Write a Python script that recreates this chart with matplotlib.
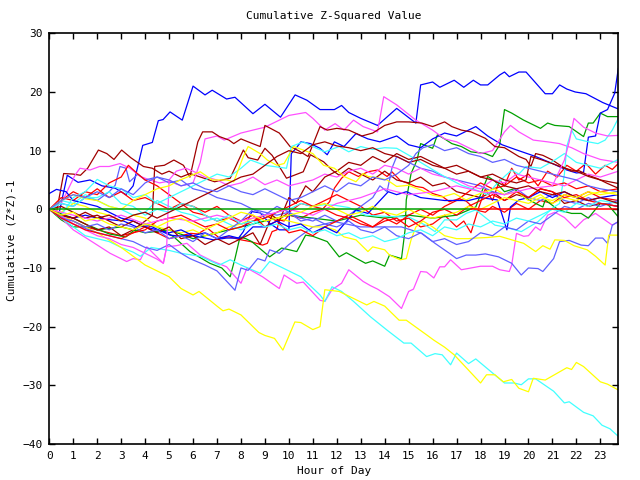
import matplotlib
matplotlib.use('Agg')
import matplotlib.pyplot as plt

# ---- data: (hour, cumulative value) ----
blue_1 = [(0, 0), (0.4, -0.8), (0.75, 5.8), (1.2, 4.6), (1.7, 5.0), (2.2, 4.0), (2.75, 3.6), (3.2, 2.5), (3.5, 4.0),
          (3.9, 10.9), (4.3, 11.4), (4.55, 15.1), (4.75, 15.3), (5.04, 16.6), (5.55, 15.2), (6.0, 21.0), (6.5, 19.5),
          (6.8, 20.3), (7.4, 18.8), (7.75, 19.1), (8.5, 16.3), (9.0, 17.9), (9.65, 15.7), (10.26, 19.5), (10.75, 18.6),
          (11.3, 17.0), (11.9, 17.0), (12.2, 17.7), (12.5, 16.5), (13.0, 15.5), (13.7, 14.3), (14.5, 17.2), (15.3, 14.7),
          (15.5, 21.2), (16.0, 21.7), (16.3, 20.8), (16.9, 22.0), (17.3, 20.8), (17.7, 22.0), (18.0, 21.2), (18.3, 21.2),
          (18.8, 22.9), (19.0, 23.4), (19.2, 22.6), (19.6, 23.4), (19.9, 23.4), (20.7, 19.7), (21.0, 19.7), (21.3, 21.2),
          (21.6, 20.5), (21.95, 20.0), (22.4, 19.7), (23.1, 18.2), (23.75, 17.1)]
blue_2 = [(0, 0), (0.5, -1), (1, -1.5), (1.5, -1), (2, -1.5), (2.6, -1.8), (3.1, -2), (3.65, -3), (4.2, -2.8),
          (4.55, -3.5), (5.04, -4.4), (5.5, -4.6), (5.87, -4.4), (6.4, -4.8), (6.85, -5.2), (7.4, -4.9), (7.9, -4.9),
          (8.1, -3.8), (8.3, -1.8), (8.45, -0.4), (8.8, -0.6), (9.2, -2.4), (9.6, -3.5), (10.0, -3.5), (10.1, 9.5),
          (10.3, 10.4), (10.5, 11.5), (10.9, 11.2), (11.3, 10.4), (11.6, 9.3), (11.9, 11.5), (12.3, 10.7), (12.8, 12.9),
          (13.3, 12.0), (13.8, 11.5), (14.5, 12.5), (15.0, 11.0), (15.5, 10.5), (16.0, 12.0), (16.5, 13.0), (17.0, 12.5),
          (17.8, 14.1), (18.3, 12.5), (18.9, 11.0), (19.45, 10.2), (20.3, 9.0), (21.0, 7.8), (21.6, 6.7), (22.0, 6.2),
          (22.3, 6.3), (22.5, 12.3), (22.8, 12.5), (23.0, 16.4), (23.3, 17.0), (23.6, 19.8), (23.75, 24.0)]
blue_3 = [(0, 2.7), (0.3, 3.4), (0.7, 3.0), (1, 1.5), (1.5, 1), (2, 0.5), (2.5, -0.5), (3, -1.5), (3.5, -2),
          (4, -3), (4.5, -3.5), (5, -4), (5.5, -3.5), (6, -4.5), (6.5, -4), (7, -5), (7.5, -4.5), (8, -5), (8.5, -3),
          (9, -3), (9.5, -2), (10, -3), (10.5, -2.5), (11, -4), (11.5, -3), (12, -4), (12.8, -0.1), (13.3, -0.7),
          (14.15, 3.0), (14.5, 2.5), (14.9, 3.0), (15.5, 2.0), (16.5, 1.5), (17.5, 1.5), (18.0, 2.0), (18.7, 1.6),
          (19.1, -3.5), (19.25, 0.4), (19.6, 1.6), (20.0, 2.0), (20.5, 3.0), (21.0, 2.0), (21.5, 3.0), (22.0, 2.0),
          (22.5, 1.5), (23.0, 2.0), (23.75, 2.5)]

slate_1 = [(0, 0), (1, -2.5), (2, -4), (3, -5), (3.5, -5.5), (4, -6.5), (4.5, -7), (5, -6), (5.5, -7.5), (5.87, -8.4),
           (6.5, -9.5), (7, -10.5), (7.55, -12.9), (7.75, -13.8), (8.0, -10), (8.3, -10.4), (8.7, -8.4), (9.0, -8.8),
           (9.2, -6.9), (9.6, -7.5), (10, -6), (10.5, -4.5), (11, -3), (11.5, -2.5), (11.9, -2.1), (13.0, -3),
           (14.7, -3), (15.55, -4.1), (16.1, -5.8), (16.7, -7.5), (17.0, -8.4), (17.4, -7.8), (17.8, -7.8),
           (18.2, -7.6), (18.75, -8.1), (19.3, -9.2), (19.7, -11.2), (20.0, -10), (20.4, -10.1), (20.6, -10.6),
           (21.05, -8.4), (21.3, -5.5), (21.7, -5.3), (22.2, -6.1), (22.5, -6.2), (22.8, -4.9), (23.1, -4.9),
           (23.3, -5.8), (23.5, -2.7), (23.75, -2.1)]
slate_2 = [(0, 0), (0.5, 1), (1, 0.5), (1.5, 2), (2, 1.5), (2.5, 3), (2.75, 4.1), (2.95, 7.3), (3.2, 7), (3.35, 4.7),
           (3.7, 6), (4, 5), (4.5, 5.5), (5, 4.5), (5.5, 5), (6, 3.5), (6.5, 3), (7, 2), (7.5, 1.5), (8, 1), (8.5, 0),
           (9, -0.5), (9.5, -1), (10, -0.5), (10.5, -1.5), (11, -2), (11.5, -1), (12, -2), (12.5, -1), (13, 0.5),
           (13.5, 2), (13.8, 4), (14.1, 3), (14.3, 7), (14.5, 9), (15, 8), (15.5, 7), (16, 6.5), (16.5, 5.5), (17, 5),
           (17.5, 4.5), (18, 4), (18.5, 3), (19, 2.5), (19.5, 3.5), (20, 2), (20.5, 1.5), (21, 2.5), (21.5, 1.5),
           (22, 1), (22.5, 2), (23, 1), (23.75, 0.5)]
slate_3 = [(0, 0), (0.5, -1.5), (1, -2), (1.5, -3), (2, -2.5), (2.5, -3.5), (3, -2.5), (3.5, -3), (4, -4), (4.5, -3.5),
           (5, -5), (5.5, -4.5), (6, -5.5), (6.5, -4), (7, -5), (7.5, -3.5), (8, -2), (8.5, 0), (9, -1), (9.5, 0.5),
           (10, -0.5), (10.5, -2), (11, -1.5), (11.5, -2.5), (12, -3), (12.5, -2), (13, -3.5), (13.5, -4), (14, -3),
           (14.5, -4.5), (15, -5), (15.5, -4), (16, -5.5), (16.5, -5), (17, -6), (17.5, -5.5), (18, -4), (18.5, -4.5),
           (19, -3), (19.5, -3.5), (20, -2), (20.5, -2.5), (21, -1), (21.5, 0.5), (22, 0), (22.5, 1), (23, 0.5),
           (23.75, 1.5)]
slate_4 = [(0, 0), (0.5, 1.5), (1, 2.5), (1.5, 2), (2, 3), (2.5, 2), (3, 3.5), (3.5, 2.5), (4, 4.5), (4.5, 5.5),
           (5, 5), (5.5, 4), (6, 4.5), (6.5, 3.5), (7, 3), (7.5, 4), (8, 3), (8.5, 2.5), (9, 3.5), (9.5, 2.5),
           (10, 1.5), (10.5, 2), (11, 3), (11.5, 4), (12, 3), (12.5, 4.5), (13, 4), (13.5, 5.5), (14, 5), (14.5, 6),
           (15, 7.5), (15.3, 9.5), (15.6, 10.5), (16, 11), (16.5, 10), (17, 10.5), (17.5, 9.5), (18, 9), (18.5, 8),
           (19, 8.5), (19.5, 7.5), (20, 7), (20.5, 6.5), (21, 6), (21.5, 5.5), (22, 5), (22.5, 4), (23, 3.5),
           (23.75, 3)]

cyan_1 = [(0, 0), (0.5, -1.5), (1, -3), (1.5, -4.5), (2, -5), (2.5, -5.5), (3, -6.5), (3.5, -7.3), (3.8, -8),
          (4.25, -6.5), (5, -7), (5.5, -7.5), (6.3, -8), (7.1, -9.5), (7.55, -8.6), (8.0, -9.5), (8.8, -10.9),
          (9.2, -8.9), (9.9, -10.3), (10.5, -11.5), (11.3, -14.6), (11.5, -15.7), (11.8, -13.2), (12.2, -14.0),
          (12.7, -15.7), (13.4, -18.3), (14.1, -20.6), (14.8, -22.8), (15.1, -22.8), (15.75, -25.1), (16.1, -24.6),
          (16.4, -24.8), (16.75, -26.5), (17.0, -24.5), (17.5, -26.3), (17.8, -25.5), (19.0, -29.6), (19.4, -29.6),
          (19.7, -29.9), (20.0, -28.9), (20.3, -28.9), (21.05, -31.0), (21.5, -33.0), (21.7, -32.8), (22.3, -34.6),
          (22.7, -35.2), (23.07, -36.8), (23.4, -37.4), (23.75, -38.7)]
cyan_2 = [(0, 0), (0.5, 1.5), (1, 1), (1.5, 2.5), (2, 1.5), (2.5, 0.5), (3, 0), (3.5, -1), (4, -0.5), (4.5, 1.5),
          (5, 0.5), (5.5, -0.5), (6, -1), (6.5, -2), (7, -1.5), (7.5, -2.5), (8, -3.5), (8.5, -2.5), (9, -1.5),
          (9.5, -0.5), (10, 0), (10.5, 1), (11, 0.5), (11.5, 0.8), (11.9, 0.7), (12.5, 0.3), (13.2, -1), (14, -1.2),
          (15, -1.3), (15.7, -2.7), (16.1, -3.8), (16.5, -1.8), (17.0, -1.8), (17.4, -0.7), (17.8, -0.1),
          (18.6, -2.7), (19.0, -3.0), (19.7, -3.8), (20.4, -2.1), (21.0, 0.2), (21.3, 1.0), (21.5, 6.0),
          (21.6, 10.7), (21.8, 13.5), (22.0, 12.0), (22.5, 11.5), (22.9, 11.2), (23.2, 11.8), (23.5, 13.5),
          (23.75, 15.5)]
cyan_3 = [(0, 0), (0.5, -1), (1, 2), (1.5, 3), (2, 5.1), (2.5, 4), (3, 3.5), (3.5, 2), (4, 2.5), (4.5, 1), (5, 2),
          (5.5, 3), (6, 4), (6.5, 5), (7, 6), (7.5, 5.5), (8, 7), (8.4, 8.4), (9, 7.5), (9.9, 7), (10.1, 10.7),
          (10.6, 11.5), (11.1, 10.5), (11.5, 9.8), (12.1, 10.7), (12.5, 9.8), (13, 10.7), (13.5, 10.2), (14, 10.5),
          (14.5, 10.4), (15.1, 9.0), (15.7, 7.5), (16.4, 5.8), (17.2, 4.1), (17.8, 3.3), (18.3, 2.5), (18.6, 4.0),
          (19.0, 5.6), (19.3, 6.7), (19.6, 6.0), (19.9, 7.3), (20.5, 7.0), (21.1, 8.4), (21.5, 9.5), (22.0, 8.0),
          (22.5, 7.5), (23.0, 7.0), (23.75, 8.5)]
cyan_4 = [(0, 0), (0.5, 1), (1, 0.5), (1.5, 2), (2, 2), (2.5, 3), (3, 1), (3.5, 0.5), (4, -1), (4.5, 0), (5, -0.5),
          (5.5, 1), (6, 0.5), (6.5, -1), (7, -2), (7.5, -1), (8, -2.5), (8.5, -2), (9, -3), (9.5, -2.5), (10, -3.5),
          (10.5, -3), (11, -4), (11.5, -3.5), (12, -4.5), (12.5, -4), (13, -5), (13.5, -4.5), (14, -5.5), (14.5, -5),
          (15, -4), (15.5, -3.5), (16, -4.5), (16.5, -3), (17, -3.5), (17.5, -2.5), (18, -3), (18.5, -2),
          (19, -2.5), (19.5, -1.5), (20, -2), (20.5, -1), (21, 0), (21.5, -0.5), (22, 1), (22.5, 0.5), (23, 1.5),
          (23.75, 1)]

magenta_1 = [(0, 0), (0.5, -1.5), (1, -3.5), (1.7, -5.3), (2.54, -7.5), (3.23, -8.9), (3.5, -8.4), (3.8, -8.6),
             (4.07, -6.4), (4.76, -9.2), (4.9, -6.4), (5.3, -6.2), (5.74, -5.8), (6.3, -7.8), (6.8, -8.8),
             (7.4, -9.8), (8.0, -12.6), (8.25, -10.0), (8.9, -11.5), (9.6, -13.5), (9.8, -11.2), (10.33, -12.6),
             (10.6, -12.4), (11.3, -15.5), (11.5, -15.7), (11.8, -13.7), (12.2, -12.6), (12.5, -10.3), (13.1, -12.3),
             (13.4, -13.0), (13.7, -13.6), (14.2, -14.9), (14.7, -16.9), (15.0, -14.0), (15.2, -13.6), (15.5, -10.6),
             (15.75, -10.7), (16.05, -11.7), (16.3, -9.8), (16.5, -9.8), (16.75, -8.6), (17.2, -10.3), (18.0, -9.7),
             (18.5, -9.7), (18.8, -10.3), (19.2, -10.6), (19.3, -9.5), (19.5, -4.1), (19.8, -4.6), (20.0, -4.5),
             (20.3, -3.0), (20.5, -3.6), (20.8, -1.0), (21.1, -0.5), (21.5, -1.4), (21.95, -3.2), (22.3, -1.8),
             (22.8, -0.7), (23.5, -2.7), (23.75, -2.1)]
magenta_2 = [(0, 0), (0.5, 1), (1.07, 5.8), (1.28, 7), (1.7, 6.7), (2.1, 7.3), (2.5, 7.3), (2.95, 7.8), (3.37, 7),
             (3.8, 5.6), (4.2, 5), (4.6, 4.5), (5, 4.8), (5.5, 4), (6, 4.5), (6.3, 8), (6.5, 12), (7, 12.5),
             (7.3, 11.8), (8, 13), (8.5, 13.5), (9, 14), (9.5, 15), (10, 16), (10.7, 16.5), (11, 15.5), (11.5, 13.5),
             (11.93, 14.6), (12.3, 13.5), (12.7, 15.2), (13.1, 14.1), (13.7, 13.2), (13.96, 19.2), (14.5, 17.8),
             (15.3, 15.2), (16, 13.5), (16.5, 12), (17, 11.5), (17.5, 10.5), (18, 9.5), (18.5, 10), (19, 13.2),
             (19.25, 14.3), (19.6, 13.2), (20.2, 11.8), (20.8, 11.5), (21.3, 11.2), (21.8, 10.5), (22.3, 9.5),
             (23, 8.5), (23.75, 8)]
magenta_3 = [(0, 0), (0.5, -1), (1, -2.5), (1.5, -3.5), (2, -4.5), (2.5, -5), (3, -6), (3.5, -6.5), (4, -7.5),
             (4.5, -8.5), (4.76, -9.2), (4.9, -6.4), (5.0, 5), (5.3, 6.5), (5.7, 7), (6, 6.5), (6.5, 5.5), (7, 5),
             (7.5, 4), (8, 4.5), (8.5, 5.5), (9, 4.2), (9.5, 5), (10, 4), (10.5, 4.5), (11, 5), (11.5, 6), (12, 5.5),
             (12.5, 6.5), (13, 7), (13.5, 6), (14, 7.5), (14.5, 7), (15, 6), (15.5, 7), (16, 6), (16.5, 5.5), (17, 5),
             (17.5, 4), (18, 3.5), (18.5, 5), (19, 4.5), (19.5, 6), (20, 5.5), (20.5, 5), (21, 4.5), (21.5, 4),
             (22, 5), (22.5, 6), (23, 5.5), (23.75, 6.5)]
magenta_4 = [(0, 0), (1, -1), (2, -2), (3, -1), (4, -2.5), (5, -1.5), (6, -2), (7, -1), (8, -2), (9, -1), (10, 0),
             (11, -1), (12, 1), (13, 2), (14, 3.5), (15, 2.5), (16, 3), (17, 4), (18, 3), (19, 2.5), (20, 3.5),
             (21, 4), (21.5, 8.4), (21.7, 11.5), (21.9, 15.5), (22.3, 14), (22.8, 13), (23.3, 12.5), (23.75, 12.6)]

yellow_1 = [(0, 0), (1, -2), (2, -4), (3, -6.5), (3.5, -8), (4, -9.5), (5, -11.5), (5.5, -13.5), (6, -14.6),
            (6.25, -14), (7, -16.5), (7.25, -17.3), (7.5, -17), (8, -18), (8.75, -21), (9, -21.5), (9.4, -22),
            (9.75, -24), (10.25, -19.2), (10.5, -19.3), (11, -20.5), (11.3, -20.0), (11.5, -13.7), (12.1, -14.0),
            (13.25, -16.3), (13.55, -15.7), (14.0, -16.5), (14.6, -18.9), (14.9, -18.9), (15.75, -21.4),
            (16.05, -22.3), (16.5, -23.5), (16.9, -24.8), (18.0, -29.6), (18.25, -28.2), (18.6, -28.2),
            (18.95, -29.4), (19.3, -29.0), (19.6, -30.5), (20.0, -31.1), (20.2, -28.8), (20.7, -29.1),
            (21.0, -28.4), (21.6, -27.0), (21.8, -27.3), (22.0, -26.1), (22.3, -26.8), (23.0, -29.4),
            (23.3, -29.8), (23.75, -30.8)]
yellow_2 = [(0, 0), (0.5, -0.5), (1, 1), (1.5, 0.5), (2, -0.5), (2.5, -1), (3, -2), (3.5, -1), (4, -1.5),
            (4.5, -3), (5, -3.5), (5.5, -4), (6, -3.5), (6.5, -4.5), (7, -4), (7.5, -3), (8, -2.5), (8.5, -1.5),
            (9, -1), (9.5, -1.5), (10, -2), (10.5, -2.5), (11, -3), (11.5, -3), (11.93, -3.5), (12.3, -4.7),
            (12.8, -5.2), (13.3, -7.2), (13.5, -6.4), (14, -6.9), (14.2, -7.8), (14.65, -8.6), (14.9, -8.4),
            (15.1, -5.2), (15.3, -3), (15.6, -2), (16, -3), (16.5, -4.5), (17, -5), (17.5, -5), (17.8, -4.9),
            (18.3, -4.8), (18.8, -4.6), (19.3, -5.2), (19.8, -5.8), (20.3, -7.2), (20.6, -6.2), (20.9, -6.8),
            (21.1, -5.2), (21.5, -5.3), (21.9, -6.2), (22.45, -6.9), (22.8, -8), (23.2, -9.5), (23.35, -4.4),
            (23.75, -4.4)]
yellow_3 = [(0, 0), (0.5, 1.5), (1, 2.5), (1.5, 1.8), (2, 1.5), (2.5, 0.5), (3, 0), (3.5, 1.5), (4, 2.5),
            (4.5, 3.5), (5, 4), (5.46, 5), (6.3, 6.4), (6.8, 5), (7.4, 5), (7.7, 4.7), (8.1, 9), (8.3, 10.7),
            (8.8, 9.5), (9.1, 8.4), (9.5, 7.5), (9.8, 7.8), (10.2, 10.7), (10.6, 10.1), (11, 9.5), (11.45, 7.5),
            (11.9, 7.0), (12.3, 5.6), (12.8, 4.7), (13.1, 6.1), (13.3, 5.6), (13.7, 5.4), (14.1, 5), (14.5, 3.9),
            (15, 4.1), (15.5, 3.3), (16, 2.4), (16.4, 2.1), (16.9, 2.7), (17.4, 1.6), (17.8, 2.4), (18.2, 3),
            (18.6, 3.5), (19, 2.5), (19.5, 3), (20, 1.5), (20.5, 2.5), (21, 1), (21.5, 2), (22, 1.5), (22.5, 2.5),
            (23, 3), (23.75, 2.5)]
yellow_4 = [(0, 0), (0.5, -1), (1, -0.5), (1.5, -2), (2, -1.5), (2.5, -2.5), (3, -3), (3.5, -3.5), (4, -2.5),
            (4.5, -3), (5, -2), (5.5, -1.5), (6, -2.5), (6.5, -3.5), (7, -2.5), (7.5, -1.5), (8, -0.5), (8.5, -1),
            (9, -2), (9.5, -1.5), (10, -1), (10.5, -0.5), (11, 0.5), (11.5, 1), (12, 0), (12.5, -1), (13, -0.5),
            (13.5, 0.5), (14, -0.5), (14.5, -1), (15, 0), (15.5, -1), (16, -1.5), (16.5, -1), (17, -0.5),
            (17.5, 0.5), (18, 0), (18.5, 1), (19, 2), (19.5, 1.5), (20, 1), (20.5, 2), (21, 1.5), (21.5, 2.5),
            (22, 2), (22.5, 3), (23, 2.5), (23.75, 3)]

red_1 = [(0, 0), (0.5, -1), (1, -2), (1.5, -3), (2, -3.5), (2.5, -4), (3, -4.5), (3.5, -4), (4, -3), (4.5, -4),
         (5, -5), (5.5, -4.5), (5.9, -4.1), (6.2, -4.2), (6.6, -3.2), (7.1, -4.9), (7.5, -4.7), (8, -5.2),
         (8.4, -5.5), (8.9, -6.1), (9.1, -5.8), (9.3, -3.8), (9.5, -3.5), (9.6, -1.8), (9.8, -2), (10, -1),
         (10.5, -1.5), (11, -0.5), (11.4, 0), (11.7, 1.3), (11.9, 3.6), (12.2, 5.3), (12.5, 6.4), (12.9, 5.6),
         (13.3, 6.4), (13.7, 6.7), (14.1, 5.6), (14.3, 6.4), (14.65, 4.9), (15, 4.4), (15.3, 3.9), (15.6, 3.7),
         (16, 2.7), (16.4, 2.2), (16.7, 1.3), (17.1, 1.8), (17.4, 1.4), (17.8, -0.1), (18.2, -0.5), (18.5, 0.5),
         (19, -0.5), (19.5, 1), (20, 0), (20.5, 1.5), (21, 1), (21.5, 2.5), (22, 2), (22.5, 3), (23, 2),
         (23.75, 1.5)]
red_2 = [(0, 0), (0.5, 1.5), (1, 3), (1.5, 2), (2, 3.5), (2.5, 2), (3, 3), (3.5, 1.5), (4, 2), (4.5, 1), (5, 0),
         (5.5, 1), (6, -0.5), (6.5, -1), (7, -2), (7.5, -1.5), (8, -2.5), (8.5, -2), (9, -1), (9.5, -2), (10, -0.5),
         (10.5, 1), (11, 0.5), (11.5, 1.5), (12, 2.5), (12.5, 1.5), (13, 0.5), (13.5, -1), (14, -0.5), (14.5, -2),
         (15, -1.5), (15.5, -3), (16, -2.5), (16.5, -1), (17, -3), (17.3, -2), (17.6, -4), (17.9, 0), (18.2, 3.5),
         (18.5, 1.5), (18.8, 5), (19, 4), (19.3, 7), (19.6, 5), (20, 6), (20.4, 4), (20.8, 6.5), (21.2, 5.5),
         (21.6, 7.5), (22, 6.5), (22.4, 7.8), (22.8, 6), (23.2, 7.5), (23.5, 6.8), (23.75, 7.8)]
red_3 = [(0, 0), (0.5, 2), (1, 1.5), (1.5, 3), (2, 2.5), (2.5, 4.5), (3, 5.5), (3.3, 7.5), (3.7, 6), (4, 5),
         (4.5, 4), (5, 2.5), (5.5, 1), (6, 0.5), (6.5, -0.5), (7, 0.5), (7.5, -1), (8, -2), (8.5, -1), (9, -3),
         (9.5, -2), (10, -4), (10.5, -3.5), (11, -4.5), (11.5, -3), (12, -2), (12.5, -1), (13, -2), (13.5, -3),
         (14, -1.5), (14.5, -2.5), (15, -1), (15.5, 0), (16, -1), (16.5, 0.5), (17, 1.5), (17.5, 3), (18, 4.5),
         (18.5, 3.5), (19, 4), (19.5, 5.5), (20, 4.5), (20.5, 5), (21, 4), (21.5, 4.5), (22, 3.5), (22.5, 4),
         (23, 3), (23.75, 3.5)]
red_4 = [(0, 0), (0.5, -1.5), (1, -2.5), (1.5, -3.5), (2, -4), (2.5, -4.5), (3, -5), (3.5, -4), (4, -3.5),
         (4.5, -2), (5, -1.5), (5.5, -1), (6, -2), (6.5, -3), (7, -2.5), (7.5, -3.5), (8, -3), (8.5, -2),
         (9, -1.5), (9.5, -0.5), (10, 0.5), (10.5, 1.5), (11, 0.5), (11.5, 0), (12, -1), (12.5, -1.5), (13, -2.5),
         (13.5, -3), (14, -2), (14.5, -1.5), (15, -3), (15.5, -2), (16, -0.5), (16.5, 0), (17, -1), (17.5, 0.5),
         (18, 1.5), (18.5, 2.5), (19, 1.5), (19.5, 3), (20, 2), (20.5, 3.5), (21, 3), (21.5, 2), (22, 2.5),
         (22.5, 1.5), (23, 1), (23.75, 0.5)]

darkred_1 = [(0, 0), (0.3, -0.5), (0.6, 6.1), (1, 6), (1.3, 5.8), (1.6, 7), (2.05, 10.1), (2.4, 9.5), (2.7, 8.5),
             (3.02, 10.1), (3.4, 8.8), (3.93, 7.3), (4.3, 7), (4.7, 6), (5.0, 6.5), (5.5, 5.5), (5.87, 6.1),
             (6.9, 4.7), (7.55, 5.3), (8.1, 10.1), (8.3, 8.8), (8.7, 8.4), (9.0, 10.4), (9.3, 9.2), (9.6, 7.3),
             (9.9, 5.3), (10.6, 6.4), (10.9, 9.3), (11.45, 8.1), (11.8, 6.7), (12.1, 5.8), (12.5, 7), (13, 6),
             (13.5, 5), (14, 6.5), (14.5, 5), (15, 4.5), (15.5, 5.5), (16, 4), (16.5, 4.5), (17, 3), (17.5, 2.5),
             (18, 2), (18.5, 3), (19, 1.5), (19.5, 2.5), (20, 2), (20.5, 3.5), (21, 3), (21.5, 1), (22, 1.5),
             (22.5, 0.5), (23, 1), (23.75, 0.5)]
darkred_2 = [(0, 0), (0.5, -1), (1, -1.5), (1.5, -2.5), (2, -3.5), (2.5, -3), (3, -4.5), (3.5, -3.5), (4, -2),
             (4.3, -1), (4.4, 7.3), (4.8, 7.5), (5.2, 8.4), (5.6, 7.5), (5.87, 5.5), (6.2, 11.5), (6.4, 13.2),
             (6.8, 13.2), (7.1, 12.4), (7.5, 11.8), (7.7, 11.2), (8, 12), (8.3, 11.5), (8.8, 10.7), (9.0, 14.3),
             (9.6, 13), (9.8, 12), (10.05, 10.7), (10.4, 10), (10.8, 9.0), (11.0, 11), (11.3, 14.1), (11.6, 13.5),
             (12.0, 13.8), (12.5, 13.5), (13.05, 12.5), (13.5, 13), (14.0, 14.3), (14.5, 14.9), (15, 14.9),
             (15.55, 14.7), (16, 14.1), (16.5, 14.9), (16.8, 14.1), (17.2, 13.5), (17.6, 13.2), (18.2, 12.1),
             (18.6, 10.7), (19.0, 10.5), (19.6, 9.0), (19.9, 8.5), (20.1, 7.3), (20.3, 9.5), (20.6, 9.2), (21, 8.4),
             (21.4, 7.3), (21.8, 6.5), (22.1, 6.6), (22.5, 5.8), (22.9, 5.2), (23.3, 4.4), (23.75, 3.6)]
darkred_3 = [(0, 0), (0.5, 0.5), (1, -0.5), (1.5, -1.5), (2, -1), (2.5, -2), (3, -3), (3.5, -2), (4, -3), (4.5, -4),
             (5, -3), (5.5, -5), (6, -4.5), (6.5, -6), (7, -5), (7.5, -6), (8, -5), (8.5, -4), (8.8, -6), (9, -4),
             (9.3, -1), (9.6, -2), (10, 2), (10.3, 1), (10.7, 4), (11, 3), (11.5, 5.5), (12, 6.5), (12.5, 8),
             (13, 7.5), (13.5, 9), (14, 8), (14.5, 9.5), (15, 8.5), (15.5, 9), (16, 8), (16.5, 7), (17, 7.5),
             (17.5, 6.5), (18, 5.5), (18.5, 6), (19, 5), (19.5, 4.5), (19.9, 5), (20.1, 9), (20.5, 8.5), (21, 7.8),
             (21.5, 7), (22, 6.5), (22.5, 5.6), (23, 5), (23.75, 4.4)]
darkred_4 = [(0, 0), (0.5, -1), (1, -1.5), (1.5, -0.5), (2, -1.5), (2.5, -1), (3, -2), (3.5, -1), (4, -0.5),
             (4.5, -1.5), (5, -0.5), (5.5, 0.5), (6, 1.5), (6.5, 2.5), (7, 3.5), (7.5, 4.5), (8, 5.5), (8.5, 6),
             (9, 7.5), (9.5, 9), (10, 10), (10.5, 9.5), (11, 11), (11.5, 11.5), (12, 10.8), (12.5, 10.5), (13, 10),
             (13.5, 10.5), (14, 9.5), (14.5, 9), (15, 8), (15.5, 8.5), (16, 7.5), (16.5, 7), (17, 6), (17.5, 6.5),
             (18, 5.5), (18.5, 5), (19, 4), (19.5, 3.5), (20, 4), (20.5, 3), (21, 2.5), (21.5, 3), (22, 2),
             (22.5, 1.5), (23, 2), (23.75, 1)]

green_1 = [(0, 0), (0.5, -1.8), (1, -3), (1.8, -3), (2.5, -4.2), (3.2, -4.7), (3.9, -2.4), (4.5, -3), (5.2, -4.7),
           (5.87, -7.2), (6.7, -9.2), (7.2, -10), (7.55, -11.5), (7.75, -8.4), (7.96, -4.7), (8.2, -5.0),
           (8.45, -5.5), (9.2, -8.1), (9.7, -6.6), (10.33, -7.2), (10.7, -4.4), (11.0, -4.6), (11.6, -5.5),
           (12.1, -8.1), (12.4, -7.4), (12.84, -8.4), (13.2, -9.2), (13.5, -8.8), (14.0, -9.7), (14.2, -7.8),
           (14.7, -8.4), (14.85, -3.5), (14.9, 1.6), (15.1, 6.1), (15.35, 8.4), (15.5, 11.2), (16.0, 10.4),
           (16.2, 12.7), (16.5, 12.0), (16.8, 11.2), (17.2, 10.7), (17.6, 9.8), (18.2, 9.5), (18.5, 9.0),
           (18.8, 11.0), (19.0, 17.0), (19.3, 16.4), (19.8, 15.2), (20.5, 13.8), (20.8, 14.7), (21.1, 14.3),
           (21.7, 14.1), (22.3, 12.4), (22.5, 14.7), (22.7, 14.7), (23.0, 16.4), (23.3, 15.8), (23.75, 15.8)]
green_2 = [(0, 0), (1, -1.5), (2, -3.5), (3, -3), (4, -4), (5, -3.5), (6, -5), (7, -4), (8, -3), (9, -2), (10, -1),
           (11, -1.5), (12, -2), (13, -1), (14, -1.5), (15, -1), (16, -1.5), (17, -1), (17.8, 0.4), (18.3, 5.6),
           (18.6, 4.8), (19.0, 3.0), (19.4, 3.5), (19.8, 2.1), (20.3, 1.0), (20.6, 0.4), (20.7, 1.6),
           (21.25, -0.1), (21.8, -0.7), (22.2, -0.7), (22.5, -1.5), (23.0, 1.0), (23.3, 0.9), (23.75, -1.3)]

zero_green = [(0, 0), (17.6, 0)]
zero_red = [(17.6, 0), (23.75, 0)]

hour_ticks = list(range(0, 24))
value_ticks = [-40, -30, -20, -10, 0, 10, 20, 30]

RED, GREEN, BLUE = '#ff0000', '#00a000', '#0000ff'
MAGENTA, CYAN, DARKRED = '#ff50ff', '#40ffff', '#a00000'
YELLOW, SLATE = '#ffff00', '#6060ff'

series = [
    (red_1, RED), (green_1, GREEN), (blue_1, BLUE), (magenta_1, MAGENTA), (cyan_1, CYAN), (darkred_1, DARKRED),
    (yellow_1, YELLOW), (slate_1, SLATE),
    (red_2, RED), (green_2, GREEN), (blue_2, BLUE), (magenta_2, MAGENTA), (cyan_2, CYAN), (darkred_2, DARKRED),
    (yellow_2, YELLOW), (slate_2, SLATE),
    (red_3, RED), (blue_3, BLUE), (magenta_3, MAGENTA), (cyan_3, CYAN), (darkred_3, DARKRED),
    (yellow_3, YELLOW), (slate_3, SLATE),
    (red_4, RED), (magenta_4, MAGENTA), (cyan_4, CYAN), (darkred_4, DARKRED), (yellow_4, YELLOW), (slate_4, SLATE),
]

plt.rcParams['font.family'] = 'DejaVu Sans Mono'
plt.rcParams['font.size'] = 8

fig = plt.figure(figsize=(6.4, 4.8), dpi=100)
ax = fig.add_axes([49.3 / 640, 36 / 480, 569 / 640, 410.7 / 480])

for pts, col in series:
    xs = [p[0] for p in pts]
    ys = [p[1] for p in pts]
    ax.plot(xs, ys, color=col, lw=0.9)

for pts, col in [(zero_green, GREEN), (zero_red, RED)]:
    ax.plot([p[0] for p in pts], [p[1] for p in pts], color=col, lw=1.1)

ax.set_xlim(0, 23.75)
ax.set_ylim(-40, 30)
ax.set_xticks(hour_ticks)
ax.set_yticks(value_ticks)
ax.tick_params(direction='in', length=4.5, width=1, top=True, right=True, pad=5)
for s in ax.spines.values():
    s.set_linewidth(1.2)

fig.text(333.8 / 640, 1 - 16 / 480, 'Cumulative Z-Squared Value', ha='center', va='center')
fig.text(333.8 / 640, 1 - 471 / 480, 'Hour of Day', ha='center', va='center')
fig.text(12 / 640, 1 - 240 / 480, 'Cumulative (Z*Z)-1', ha='center', va='center', rotation=90)

fig.savefig('out.png', dpi=100)
